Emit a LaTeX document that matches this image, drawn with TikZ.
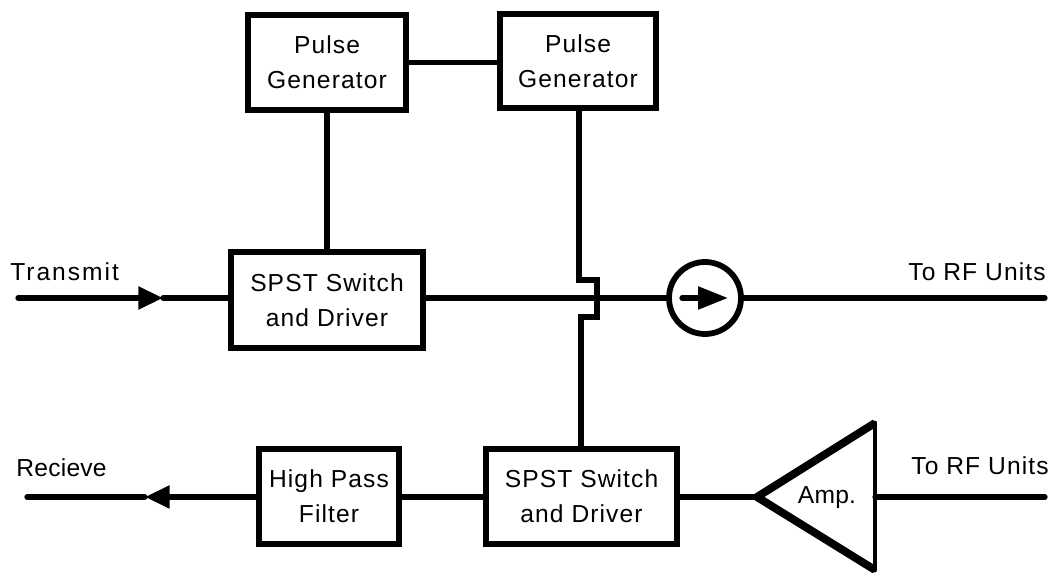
\documentclass[tikz,border=0pt]{standalone}
\usepackage{fontspec}
\setmainfont[LetterSpace=4.5]{Liberation Sans}
\usepackage{tikz}
\usetikzlibrary{arrows.meta, calc}

\tikzset{
	wire/.style={line width=3pt, line cap=round},
	unitbox/.style={draw, line width=3.3pt, outer sep=0pt, align=center, font=\fontsize{14}{20}\selectfont},
	label/.style={font=\fontsize{14}{17}\selectfont, inner sep=0pt},
	flow/.style={-{Triangle[length=14pt, width=12.5pt]}},
	flowlong/.style={-{Triangle[length=17pt, width=12.5pt]}},
}

\begin{document}
\begin{tikzpicture}[x=0.02cm, y=-0.02cm]
	\useasboundingbox (0,0) rectangle (1054,573);
	% blocks
	\node[unitbox, minimum width=3.16cm, minimum height=1.9cm] (pulseA) at (327,62.5) {Pulse\\Generator};
	\node[unitbox, minimum width=3.12cm, minimum height=1.88cm] (pulseB) at (578,61) {Pulse\\Generator};
	\node[unitbox, minimum width=3.84cm, minimum height=1.92cm] (switchTx) at (327,300) {SPST Switch\\and Driver};
	\node[unitbox, minimum width=3.82cm, minimum height=1.9cm] (switchRx) at (581.5,496.5) {SPST Switch\\and Driver};
	\node[unitbox, minimum width=2.8cm, minimum height=1.9cm] (filter) at (329,496.5) {High Pass\\Filter};
	\node[draw, circle, line width=3.3pt, minimum size=1.44cm, outer sep=0pt] (isolator) at (705,298) {};
	% amplifier
	\coordinate (ampTip) at (757,497);
	\coordinate (ampTop) at (875,423);
	\coordinate (ampBot) at (875,570);
	\coordinate (ampIn) at (875,497);
	\draw[line width=4.5pt, line join=miter] (ampTop) -- (ampTip) -- (ampBot);
	\draw[line width=2.8pt, line cap=round] (ampTop) -- (ampBot);
	\node[label, font=\fontsize{14}{17}\selectfont\addfontfeature{LetterSpace=1}] (ampText) at (827,498) {Amp.};
	% free ends
	\coordinate (txIn) at (18,298);
	\coordinate (txMark) at (163,298);
	\coordinate (txOut) at (1045,298);
	\coordinate (rxOut) at (27,497);
	\coordinate (rxMark) at (145,497);
	\coordinate (rxIn) at (1045,497);
	\coordinate (isoTail) at (682,298);
	\coordinate (isoHead) at (728,298);
	\coordinate (hopA) at (579,280);
	\coordinate (hopB) at (597,280);
	\coordinate (hopC) at (597,317);
	\coordinate (hopD) at (581,317);
	% wiring
	\draw[wire] (pulseA.east) -- (pulseB.west |- pulseA.east);
	\draw[wire] (pulseA) -- (switchTx.north -| pulseA);
	\draw[wire, flow] (txIn) -- (txMark);
	\draw[wire] (txMark) -- (switchTx.west |- txMark);
	\draw[wire] (switchTx.east |- txMark) -- (isolator);
	\draw[wire] (isolator) -- (txOut);
	\draw[wire, flowlong] (isoTail) -- (isoHead);
	\draw[wire, line join=miter, line cap=butt] (pulseB.south -| hopA) -- (hopA) -- (hopB) -- (hopC) -- (hopD) -- (hopD |- switchRx.north);
	\draw[wire] (rxIn) -- (ampIn);
	\draw[wire] (ampTip) -- (switchRx.east |- ampTip);
	\draw[wire] (switchRx.west |- ampTip) -- (filter.east |- ampTip);
	\draw[wire, flow] (filter.west |- ampTip) -- (rxMark);
	\draw[wire] (rxMark) -- (rxOut);
	% labels
	\node[label, font=\fontsize{14}{17}\selectfont\addfontfeature{LetterSpace=8}, anchor=base west] (txLabel) at (10,281) {Transmit};
	\node[label, font=\fontsize{14}{17}\selectfont\addfontfeature{LetterSpace=1}, anchor=base west] (rxLabel) at (16,477) {Recieve};
	\node[label, anchor=base east] (rfTop) at (1046,281) {To RF Units};
	\node[label, anchor=base east] (rfBot) at (1049,475) {To RF Units};
\end{tikzpicture}
\end{document}
